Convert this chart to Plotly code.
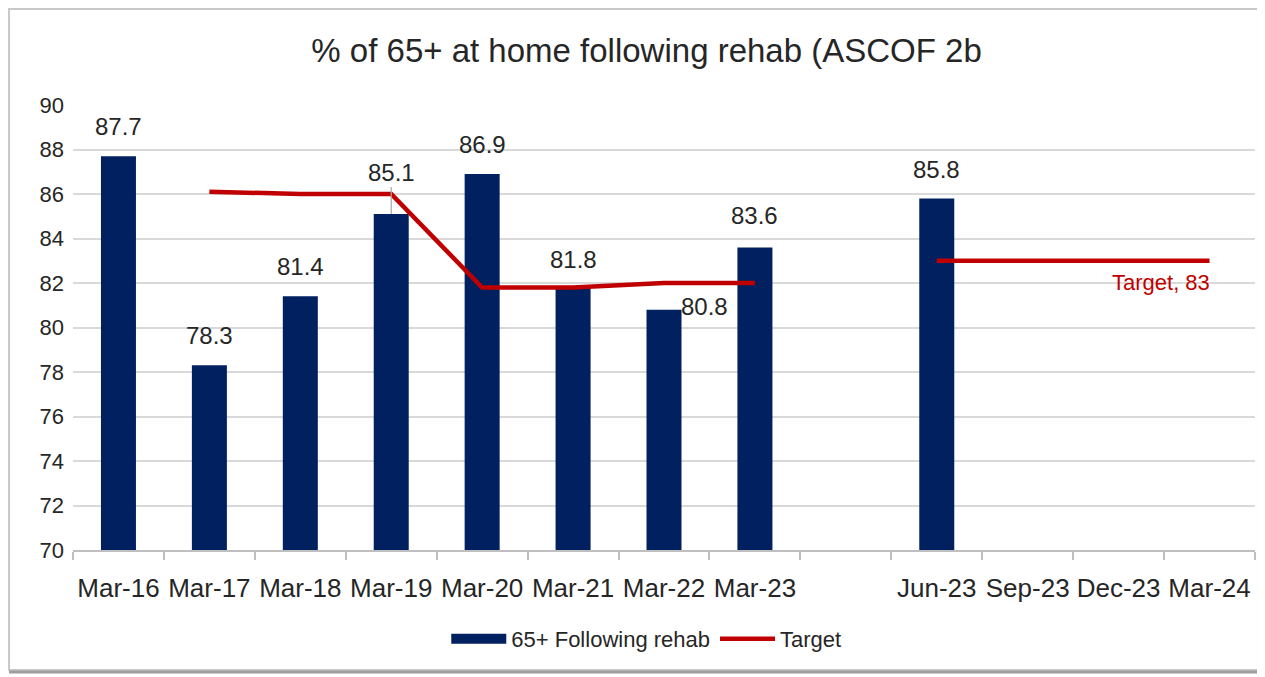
import plotly.graph_objects as go

categories = ["Mar-16", "Mar-17", "Mar-18", "Mar-19", "Mar-20", "Mar-21", "Mar-22",
              "Mar-23", "", "Jun-23", "Sep-23", "Dec-23", "Mar-24"]
rehab_values = [87.7, 78.3, 81.4, 85.1, 86.9, 81.8, 80.8, 83.6, None, 85.8, None, None, None]
target_values = [None, 86.1, 86.0, 86.0, 81.8, 81.8, 82.0, 82.0, None, 83, 83, 83, 83]

# label offsets (pixels) for bar value labels
label_yshift = [14, 14, 14, 0, 14, 12, 3, 16, 0, 13, 0, 0, 0]
label_xshift = [0, 0, 0, 0, 0, 0, 40, 0, 0, 0, 0, 0, 0]

BAR = "#002060"
RED = "#C00000"
TXT = "#262626"
FONT = "Liberation Sans"

x_idx = list(range(len(categories)))

fig = go.Figure()
fig.add_trace(go.Bar(
    x=x_idx, y=rehab_values, name="65+ Following rehab", showlegend=False,
    marker=dict(color=BAR, line=dict(width=0)), width=0.385,
))
# legend-only swatch for the bars (wide rectangle like the original)
fig.add_trace(go.Scatter(
    x=[None], y=[None], name="65+ Following rehab", mode="lines",
    line=dict(color=BAR, width=14), showlegend=True,
))
fig.add_trace(go.Scatter(
    x=x_idx, y=target_values, name="Target", mode="lines",
    line=dict(color=RED, width=4.5), connectgaps=False,
))

annotations = []
for i, v in enumerate(rehab_values):
    if v is None:
        continue
    if categories[i] == "Mar-19":
        annotations.append(dict(
            x=i, y=v, xref="x", yref="y", text=f"{v:.1f}", showarrow=True,
            arrowhead=0, arrowwidth=1.2, arrowcolor="#A6A6A6", ax=0, ay=-42,
            font=dict(family=FONT, size=24, color=TXT),
        ))
    elif categories[i] == "Mar-22":
        annotations.append(dict(
            x=i, y=v, xref="x", yref="y", text=f"{v:.1f}", showarrow=False,
            xshift=label_xshift[i], yshift=label_yshift[i], yanchor="middle",
            font=dict(family=FONT, size=24, color=TXT),
        ))
    else:
        annotations.append(dict(
            x=i, y=v, xref="x", yref="y", text=f"{v:.1f}", showarrow=False,
            xshift=label_xshift[i], yshift=label_yshift[i], yanchor="bottom",
            font=dict(family=FONT, size=24, color=TXT),
        ))

last = len(categories) - 1
annotations.append(dict(
    x=last, y=target_values[last], xref="x", yref="y",
    text=f"Target, {target_values[last]}", showarrow=False,
    xanchor="right", yanchor="middle", yshift=-22, xshift=2,
    font=dict(family=FONT, size=22, color=RED),
))

fig.update_layout(
    width=1257, height=669,
    margin=dict(l=65, r=10, t=97, b=127),
    paper_bgcolor="white", plot_bgcolor="white",
    title=dict(text="% of 65+ at home following rehab (ASCOF 2b",
               x=0.508, xanchor="center", y=1 - 42 / 669, yanchor="middle",
               font=dict(family=FONT, size=33, color=TXT)),
    font=dict(family=FONT, color=TXT),
    showlegend=True,
    legend=dict(orientation="h", x=0.485, xanchor="center", y=-0.2, yanchor="middle",
                font=dict(family=FONT, size=22, color=TXT), itemwidth=55,
                bgcolor="rgba(0,0,0,0)"),
    bargap=0.6,
    annotations=annotations,
    shapes=[
        dict(type="rect", xref="paper", yref="paper",
             x0=-0.0541, x1=1.0025, y0=-0.2697, y1=1.2157,
             line=dict(color="#C8C8C8", width=2), layer="below"),
        dict(type="line", xref="paper", yref="paper",
             x0=-0.0541, x1=1.0025, y0=-0.2742, y1=-0.2742,
             line=dict(color="#9E9E9E", width=3), layer="below"),
    ],
)

fig.update_xaxes(
    range=[-0.5, len(categories) - 0.5],
    tickmode="array", tickvals=x_idx, ticktext=categories,
    ticks="", showgrid=False, zeroline=False,
    showline=True, linecolor="#BFBFBF", linewidth=1.5,
    tickfont=dict(family=FONT, size=26, color=TXT),
    ticklabelstandoff=14,
    minor=dict(tick0=-0.5, dtick=1, ticks="outside", ticklen=8,
               tickcolor="#BFBFBF", tickwidth=1.5, showgrid=False),
)
fig.update_yaxes(
    range=[70, 90], tickmode="linear", tick0=70, dtick=2,
    showgrid=True, gridcolor="#D9D9D9", gridwidth=1.5,
    zeroline=False, showline=False, ticks="",
    tickfont=dict(family=FONT, size=22, color=TXT),
    ticklabelstandoff=8,
)

fig.write_html("out.html")
